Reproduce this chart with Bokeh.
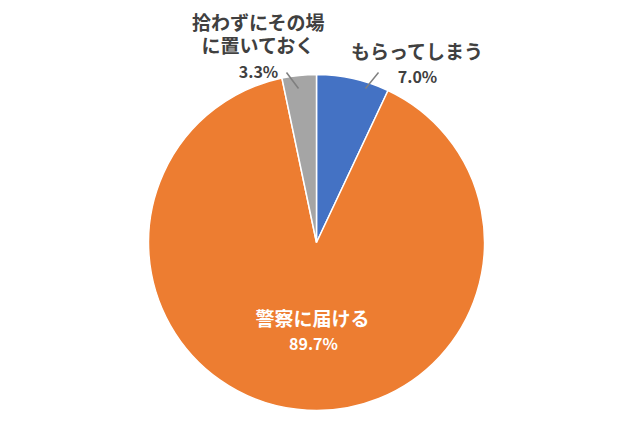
import math
from bokeh.plotting import figure
from bokeh.models import Range1d, ColumnDataSource
from bokeh.core.properties import value
from bokeh.embed import file_html
from bokeh.resources import INLINE

# データ
labels = ["もらってしまう", "警察に届ける", "拾わずにその場\nに置いておく"]
values = [7.0, 89.7, 3.3]
colors = ["#4472C4", "#ED7D31", "#A5A5A5"]

W, H = 640, 438
cx, cy, r = 316, H - 242, 168
font = value("Noto Sans CJK JP")

p = figure(width=624, height=422, output_backend="svg", toolbar_location=None,
           x_range=Range1d(0, 624), y_range=Range1d(H - 422, H),
           min_border=0, outline_line_color=None)
p.axis.visible = False
p.grid.visible = False
p.background_fill_color = "white"

# 角度（12時から時計回り）
total = sum(values)
starts, ends = [], []
a = math.pi / 2
for v in values:
    starts.append(a)
    a -= v / total * 2 * math.pi
    ends.append(a)

src = ColumnDataSource(data=dict(start=starts, end=ends, color=colors))
p.wedge(x=cx, y=cy, radius=r, start_angle="end", end_angle="start",
        fill_color="color", line_color="white", line_width=1.5, source=src)

# 引き出し線（ページ座標）
leaders = [((365, 88), (378, 72)), ((298, 88), (286, 72))]
for (x0, y0), (x1, y1) in leaders:
    p.line([x0, x1], [H - y0, H - y1], line_color="#7F7F7F", line_width=1.5)

txt = "#404040"
big, small = "19px", "16px"
# もらってしまう
p.text(x=[417], y=[H - 50], text=[labels[0]], text_align="center", text_baseline="middle",
       text_font=font, text_font_style="bold", text_font_size=big, text_color=txt)
p.text(x=[417], y=[H - 75], text=[f"{values[0]:.1f}%"], text_align="center", text_baseline="middle",
       text_font=font, text_font_style="bold", text_font_size=small, text_color=txt)
# 拾わずにその場 / に置いておく
l1, l2 = labels[2].split("\n")
p.text(x=[258, 258], y=[H - 21, H - 44], text=[l1, l2], text_align="center", text_baseline="middle",
       text_font=font, text_font_style="bold", text_font_size=big, text_color=txt)
p.text(x=[258], y=[H - 70], text=[f"{values[2]:.1f}%"], text_align="center", text_baseline="middle",
       text_font=font, text_font_style="bold", text_font_size=small, text_color=txt)
# 警察に届ける
p.text(x=[312], y=[H - 317], text=[labels[1]], text_align="center", text_baseline="middle",
       text_font=font, text_font_style="bold", text_font_size=big, text_color="white")
p.text(x=[313], y=[H - 342], text=[f"{values[1]:.1f}%"], text_align="center", text_baseline="middle",
       text_font=font, text_font_style="bold", text_font_size=small, text_color="white")

open("out.html", "w").write(file_html(p, INLINE))
